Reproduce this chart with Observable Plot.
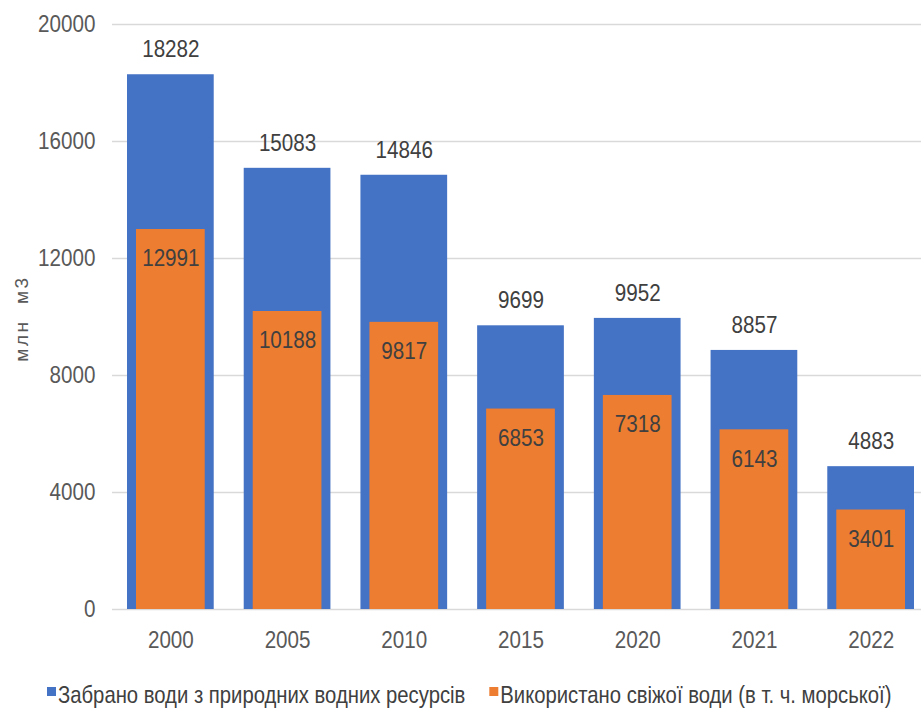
<!DOCTYPE html>
<html>
<head>
<meta charset="utf-8">
<script src="https://cdn.jsdelivr.net/npm/d3@7"></script>
<script src="https://cdn.jsdelivr.net/npm/@observablehq/plot@0.6"></script>
<style>
  html, body { margin: 0; padding: 0; background: #fff; }
  body { width: 921px; font-family: "Liberation Sans", Arial, sans-serif; }
  svg { display: block; }
</style>
</head>
<body>
<div id="chart"></div>
<div id="legend"></div>
<script>
const years = ["2000", "2005", "2010", "2015", "2020", "2021", "2022"];
const withdrawn = [18282, 15083, 14846, 9699, 9952, 8857, 4883];
const used = [12991, 10188, 9817, 6853, 7318, 6143, 3401];
const seriesNames = ["Забрано води з природних водних ресурсів", "Використано свіжої води (в т. ч. морської)"];
const seriesColors = ["#4472C4", "#ED7D31"];
const yTicks = [0, 4000, 8000, 12000, 16000, 20000];
const yLabel = "млн  м3";

const dataW = years.map((y, i) => ({year: y, value: withdrawn[i]}));
const dataU = years.map((y, i) => ({year: y, value: used[i]}));

const font = "'Liberation Sans', Arial, sans-serif";
const SQUEEZE = 0.86;   // the reference's glyphs are narrow (condensed look)

const chart = Plot.plot({
  width: 921,
  height: 660,
  marginTop: 24,
  marginBottom: 51,
  marginLeft: 112,
  marginRight: 0,
  style: {fontFamily: font, fontSize: "24px", color: "#595959", background: "#fff"},
  x: {domain: years, range: [112, 929], padding: 0, round: false, label: null},
  y: {domain: [0, 20000], label: null},
  marks: [
    Plot.ruleY(yTicks, {stroke: "#d9d9d9", strokeWidth: 1.3}),
    Plot.axisY({ticks: yTicks, tickSize: 0, tickPadding: 17, tickFormat: d => String(d), fill: "#595959", fontSize: 24, label: null}),
    Plot.axisX({tickSize: 0, tickPadding: 21, fill: "#595959", fontSize: 24, label: null}),
    Plot.barY(dataW, {x: "year", y: "value", fill: seriesColors[0], insetLeft: 15, insetRight: 15}),
    Plot.barY(dataU, {x: "year", y: "value", fill: seriesColors[1], insetLeft: 24, insetRight: 24}),
    Plot.text(dataW, {x: "year", y: "value", text: d => String(d.value), dy: -25, fill: "#404040", fontSize: 24}),
    Plot.text(dataU, {x: "year", y: "value", text: d => String(d.value), dy: 29, fill: "#404040", fontSize: 24}),
    Plot.text([yLabel], {frameAnchor: "left", textAnchor: "middle", dx: -91, dy: 1.5, text: d => d, rotate: -90, fill: "#595959", fontSize: 19})
  ]
});
document.getElementById("chart").appendChild(chart);

// condense glyphs horizontally (horizontal texts only)
chart.querySelectorAll("text").forEach(t => {
  if (t.textContent === yLabel) {
    t.style.letterSpacing = "2.5px";
    t.style.whiteSpace = "pre";
    return;
  }
  const len = t.getComputedTextLength();
  if (!len) return;
  t.setAttribute("textLength", (len * SQUEEZE).toFixed(1));
  t.setAttribute("lengthAdjust", "spacingAndGlyphs");
});

// legend (below the plot)
const LSQ = 0.845;
const lsvg = d3.select("#legend").append("svg").attr("width", 921).attr("height", 51)
  .style("font-family", font).style("font-size", "24px");
let xpos = 47;
seriesNames.forEach((name, i) => {
  lsvg.append("rect").attr("x", xpos).attr("y", 27).attr("width", 9).attr("height", 9).attr("fill", seriesColors[i]);
  const g = lsvg.append("g").attr("transform", `translate(${xpos + 11},43) scale(${LSQ},1)`);
  const t = g.append("text").attr("x", 0).attr("y", 0).attr("fill", "#404040").text(name);
  const len = t.node().getComputedTextLength() * LSQ;
  xpos = xpos + 11 + len + 24;
});
</script>
</body>
</html>
